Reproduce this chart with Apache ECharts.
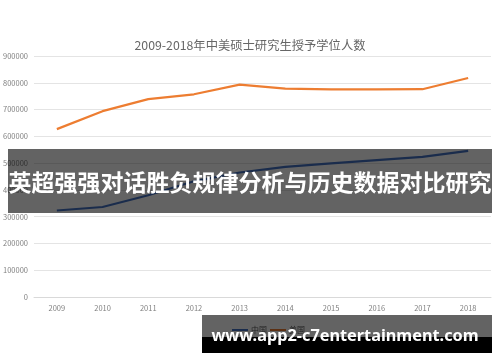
<!DOCTYPE html>
<html>
<head>
<meta charset="utf-8">
<script src="https://cdn.jsdelivr.net/npm/echarts@6/dist/echarts.min.js"></script>
<style>html,body{margin:0;padding:0;background:#fff;}#c{width:500px;height:362px;}</style>
</head>
<body>
<div id="c"></div>
<script>
const years = ['2009','2010','2011','2012','2013','2014','2015','2016','2017','2018'];
const china = [323000, 336000, 380000, 432000, 465000, 486000, 499000, 511000, 523000, 546000];
const usa = [627000, 694000, 739000, 757000, 793000, 778000, 775000, 775000, 776000, 818000];
const titleText = '2009-2018年中美硕士研究生授予学位人数';
const bannerText = '英超强强对话胜负规律分析与历史数据对比研究';
const watermarkText = 'www.app2-c7entertainment.com';

const chart = echarts.init(document.getElementById('c'), null, {renderer: 'canvas'});
const font = '"Noto Sans CJK SC", "Noto Sans", sans-serif';
chart.setOption({
  animation: false,
  backgroundColor: '#fff',
  title: {
    text: titleText, left: 'center', top: 34,
    textStyle: {fontFamily: font, fontSize: 12.3, fontWeight: 'normal', color: '#666666'}
  },
  grid: {left: 34, right: 9, top: 56, bottom: 65, containLabel: false, outerBoundsMode: 'none'},
  legend: {
    left: 227, top: 321, icon: 'rect', itemWidth: 16, itemHeight: 2, itemGap: 3,
    textStyle: {fontFamily: font, fontSize: 8, color: '#595959', padding: [0,0,0,-2]},
    data: ['中国', '美国']
  },
  xAxis: {
    type: 'category', data: years, boundaryGap: true,
    axisLine: {lineStyle: {color: '#d9d9d9'}}, axisTick: {show: false},
    axisLabel: {fontFamily: font, fontSize: 7.5, color: '#7f7f7f', margin: 7}
  },
  yAxis: {
    type: 'value', min: 0, max: 900000, interval: 100000,
    axisLine: {show: false}, axisTick: {show: false},
    axisLabel: {fontFamily: font, fontSize: 7.5, color: '#7f7f7f', margin: 6, formatter: v => String(v)},
    splitLine: {lineStyle: {color: '#e4e4e4', width: 1}}
  },
  series: [
    {name: '中国', type: 'line', data: china, symbol: 'none', lineStyle: {width: 2.2, color: '#4472C4'}, itemStyle: {color: '#4472C4'}},
    {name: '美国', type: 'line', data: usa, symbol: 'none', lineStyle: {width: 2.2, color: '#ED7D31'}, itemStyle: {color: '#ED7D31'}}
  ],
  graphic: [
    {type: 'rect', z: 100, shape: {x: 8, y: 149, width: 484, height: 64}, style: {fill: 'rgba(0,0,0,0.61)'}},
    {type: 'text', z: 101, x: 250, y: 182, style: {text: bannerText, fill: '#fff', fontSize: 23, fontWeight: 'bold', fontFamily: font, align: 'center', verticalAlign: 'middle'}},
    {type: 'rect', z: 100, shape: {x: 202, y: 315, width: 290, height: 22}, style: {fill: 'rgba(0,0,0,0.61)'}},
    {type: 'rect', z: 100, shape: {x: 202, y: 337, width: 290, height: 16}, style: {fill: '#000'}},
    {type: 'text', z: 101, x: 345, y: 336, style: {text: watermarkText, fill: '#fff', fontSize: 16.3, fontWeight: 'bold', fontFamily: '"Noto Sans", sans-serif', align: 'center', verticalAlign: 'middle'}}
  ]
});
</script>
</body>
</html>
